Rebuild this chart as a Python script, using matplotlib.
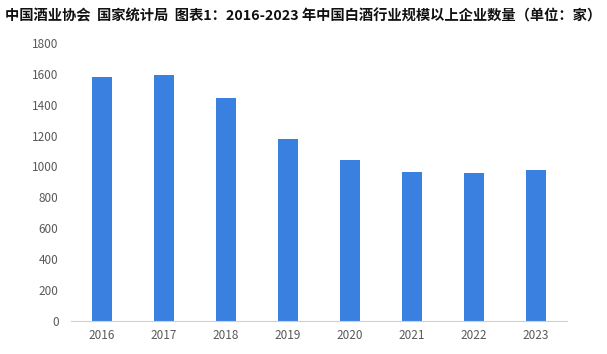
import matplotlib
matplotlib.use("Agg")
import matplotlib.pyplot as plt

plt.rcParams['font.family'] = ['Noto Sans CJK SC', 'DejaVu Sans']

years = ["2016", "2017", "2018", "2019", "2020", "2021", "2022", "2023"]
counts = [1578, 1593, 1445, 1176, 1040, 965, 960, 980]

title = "中国酒业协会  国家统计局  图表1：2016-2023 年中国白酒行业规模以上企业数量（单位：家）"

fig = plt.figure(figsize=(6.07, 3.54), dpi=100)
ax = fig.add_axes([0.117, 0.093, 0.817, 0.786])

x = range(len(years))
ax.bar(x, counts, width=0.31, color="#3A80E0")

ax.set_xlim(-0.5, len(years) - 0.5)
ax.set_ylim(0, 1800)
ax.set_yticks(range(0, 1801, 200))
ax.set_xticks(list(x))
ax.set_xticklabels(years)

for s in ["top", "right", "left"]:
    ax.spines[s].set_visible(False)
ax.spines["bottom"].set_color("#D0D0D0")
ax.tick_params(axis="both", length=0, labelsize=8.5, colors="#595959")
ax.tick_params(axis="y", pad=9)
ax.tick_params(axis="x", pad=6)

fig.text(0.008, 0.955, title, fontsize=10.3, fontweight="bold", color="#111111",
         ha="left", va="center")

plt.savefig("out.png", dpi=100)
